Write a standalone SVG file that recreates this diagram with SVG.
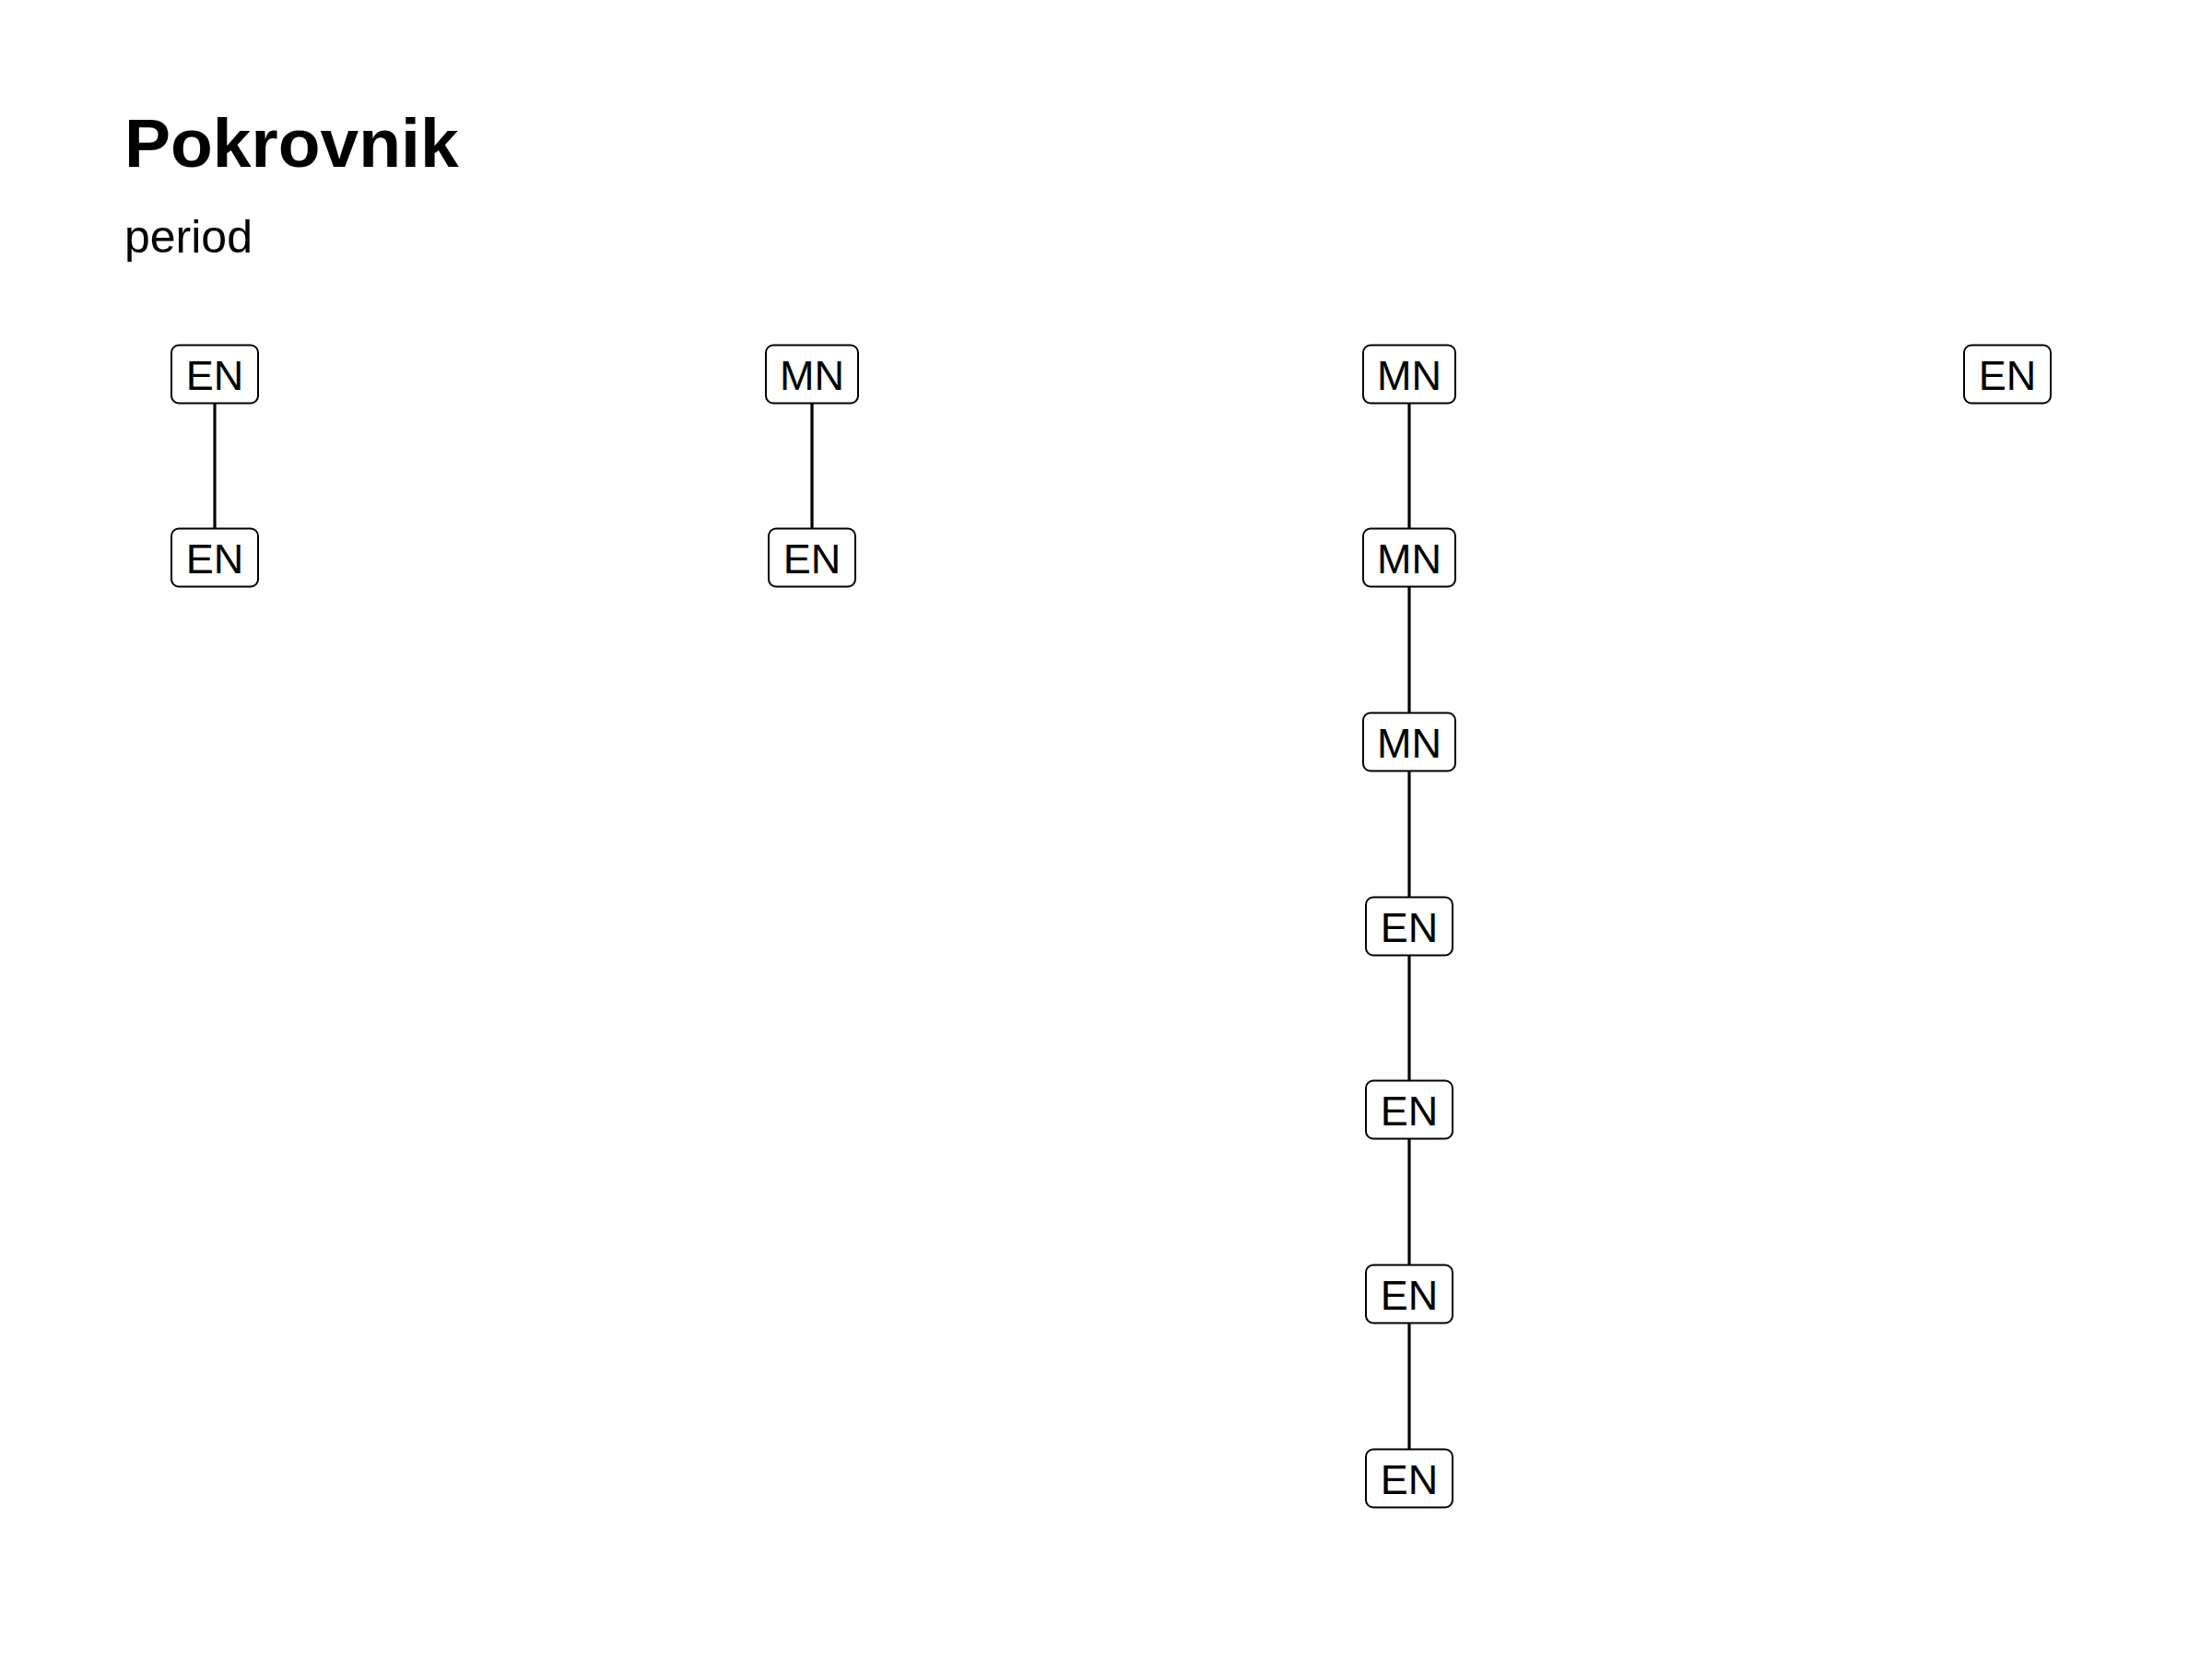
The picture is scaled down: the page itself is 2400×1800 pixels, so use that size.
<svg xmlns="http://www.w3.org/2000/svg" width="2400" height="1800" viewBox="0 0 2400 1800">
<style>
.bg{fill:#ffffff}
.title{font-family:"Liberation Sans",Arial,sans-serif;font-weight:bold;font-size:75px;fill:#000}
.sub{font-family:"Liberation Sans",Arial,sans-serif;font-size:50px;fill:#000}
.box{fill:#ffffff;stroke:#000;stroke-width:2}
.lbl{font-family:"Liberation Sans",Arial,sans-serif;font-size:45px;fill:#000;text-anchor:middle}
.edge{stroke:#000;stroke-width:3.2;fill:none}
</style>
<rect class="bg" x="0" y="0" width="2400" height="1800"/>
<text class="title" x="135" y="181">Pokrovnik</text>
<text class="sub" x="135" y="274">period</text>
<g id="connectors">
<line class="edge" x1="233" y1="437" x2="233" y2="574"/>
<line class="edge" x1="881" y1="437" x2="881" y2="574"/>
<line class="edge" x1="1529" y1="437" x2="1529" y2="574"/>
<line class="edge" x1="1529" y1="637" x2="1529" y2="774"/>
<line class="edge" x1="1529" y1="836" x2="1529" y2="974"/>
<line class="edge" x1="1529" y1="1036" x2="1529" y2="1173"/>
<line class="edge" x1="1529" y1="1235" x2="1529" y2="1373"/>
<line class="edge" x1="1529" y1="1435" x2="1529" y2="1573"/>
</g>
<g id="n1"><rect class="box" x="186" y="374.5" width="94" height="63" rx="8"/><text class="lbl" x="233" y="423">EN</text></g>
<g id="n2"><rect class="box" x="186" y="573.5" width="94" height="63" rx="8"/><text class="lbl" x="233" y="622">EN</text></g>
<g id="n3"><rect class="box" x="831" y="374.5" width="100" height="63" rx="8"/><text class="lbl" x="881" y="423">MN</text></g>
<g id="n4"><rect class="box" x="834" y="573.5" width="94" height="63" rx="8"/><text class="lbl" x="881" y="622">EN</text></g>
<g id="n5"><rect class="box" x="1479" y="374.5" width="100" height="63" rx="8"/><text class="lbl" x="1529" y="423">MN</text></g>
<g id="n6"><rect class="box" x="1479" y="573.5" width="100" height="63" rx="8"/><text class="lbl" x="1529" y="622">MN</text></g>
<g id="n7"><rect class="box" x="1479" y="773.5" width="100" height="63" rx="8"/><text class="lbl" x="1529" y="822">MN</text></g>
<g id="n8"><rect class="box" x="1482" y="973.5" width="94" height="63" rx="8"/><text class="lbl" x="1529" y="1022">EN</text></g>
<g id="n9"><rect class="box" x="1482" y="1172.5" width="94" height="63" rx="8"/><text class="lbl" x="1529" y="1221">EN</text></g>
<g id="n10"><rect class="box" x="1482" y="1372.5" width="94" height="63" rx="8"/><text class="lbl" x="1529" y="1421">EN</text></g>
<g id="n11"><rect class="box" x="1482" y="1572.5" width="94" height="63" rx="8"/><text class="lbl" x="1529" y="1621">EN</text></g>
<g id="n12"><rect class="box" x="2131" y="374.5" width="94" height="63" rx="8"/><text class="lbl" x="2178" y="423">EN</text></g>
</svg>
